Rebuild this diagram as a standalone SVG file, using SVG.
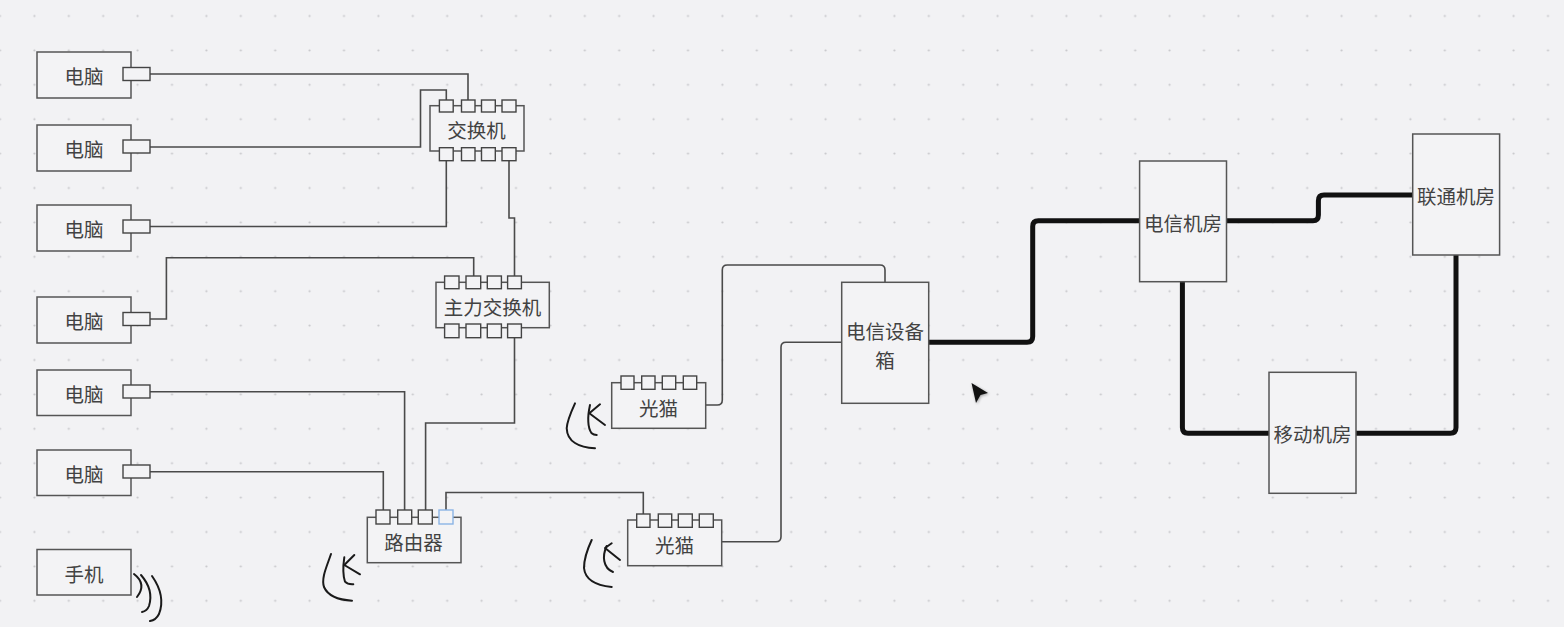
<svg xmlns="http://www.w3.org/2000/svg" width="1564" height="627" viewBox="0 0 1564 627">
  <defs>
    <pattern id="dots" patternUnits="userSpaceOnUse" x="-17.2" y="-1.2" width="34.4" height="34.4">
      <circle cx="17.2" cy="17.2" r="1.1" fill="#c6c6ca"/>
    </pattern>
    <filter id="soft" x="-50%" y="-50%" width="200%" height="200%">
      <feGaussianBlur stdDeviation="1.6"/>
    </filter>
    <style>
      .box { fill: #f3f3f5; stroke: #555; stroke-width: 1.5; }
      .port { fill: #f3f3f5; stroke: #444; stroke-width: 1.4; }
      .port-sel { fill: #f3f3f5; stroke: #8bb4e6; stroke-width: 1.4; }
      .lbl { font-family: "Noto Sans CJK SC", "Noto Sans", sans-serif; font-size: 19.5px; fill: #424242; text-anchor: middle; dominant-baseline: central; }
      .wire { fill: none; stroke: #4a4a4a; stroke-width: 1.6; }
      .trunk { fill: none; stroke: #111; stroke-width: 5; stroke-linejoin: round; }
      .pen { fill: none; stroke: #1a1a1a; stroke-width: 2; stroke-linecap: round; stroke-linejoin: round; }
    </style>
  </defs>

  <rect width="1564" height="627" fill="#f2f2f4"/>
  <rect width="1564" height="627" fill="url(#dots)"/>

  <!-- connectors -->
  <g id="connectors">
    <path class="wire" d="M150,74 H468 V100"/>
    <path class="wire" d="M150,147 H420.5 V90 H446.3 V100"/>
    <path class="wire" d="M150,226.5 H446.3 V160.7"/>
    <path class="wire" d="M509,160.7 V218 H514.5 V276"/>
    <path class="wire" d="M150,319 H166.4 V257.7 H473.7 V276"/>
    <path class="wire" d="M514.5,337.7 V423 H425.6 V510"/>
    <path class="wire" d="M150,391.7 H404.6 V510"/>
    <path class="wire" d="M150,471.7 H383.3 V510"/>
    <path class="wire" d="M446,510 V492.5 H643.3 V514"/>
    <path class="wire" d="M721.7,541.7 H776 Q781,541.7 781,536.7 V347.3 Q781,342.3 786,342.3 H841.7"/>
    <path class="wire" d="M705.7,405 H717.3 Q722.3,405 722.3,400 V270 Q722.3,265 727.3,265 H880 Q885,265 885,270 V282.3"/>

    <path class="trunk" d="M928.7,342.3 H1027 Q1032.7,342.3 1032.7,336.6 V226.4 Q1032.7,220.7 1038.4,220.7 H1139.6"/>
    <path class="trunk" d="M1226.5,220.7 H1313 Q1318.4,220.7 1318.4,215 V200.7 Q1318.4,195 1324,195 H1412.7"/>
    <path class="trunk" d="M1182.4,281.7 V427.6 Q1182.4,433.3 1188,433.3 H1269"/>
    <path class="trunk" d="M1356,433.3 H1450.3 Q1456,433.3 1456,427.6 V255"/>
  </g>

  <!-- computers -->
  <g id="pc1">
    <rect class="box" x="37" y="52" width="94" height="46"/>
    <rect class="port" x="123" y="67.5" width="27" height="13"/>
    <text class="lbl" x="84" y="75">电脑</text>
  </g>
  <g id="pc2">
    <rect class="box" x="37" y="125" width="94" height="46"/>
    <rect class="port" x="123" y="140" width="27" height="13"/>
    <text class="lbl" x="84" y="148">电脑</text>
  </g>
  <g id="pc3">
    <rect class="box" x="37" y="205" width="94" height="46"/>
    <rect class="port" x="123" y="220" width="27" height="13"/>
    <text class="lbl" x="84" y="228">电脑</text>
  </g>
  <g id="pc4">
    <rect class="box" x="37" y="297" width="94" height="46"/>
    <rect class="port" x="123" y="312.5" width="27" height="13"/>
    <text class="lbl" x="84" y="320">电脑</text>
  </g>
  <g id="pc5">
    <rect class="box" x="37" y="370" width="94" height="45.5"/>
    <rect class="port" x="123" y="385" width="27" height="13"/>
    <text class="lbl" x="84" y="393">电脑</text>
  </g>
  <g id="pc6">
    <rect class="box" x="37" y="450" width="94" height="45.5"/>
    <rect class="port" x="123" y="465" width="27" height="13"/>
    <text class="lbl" x="84" y="473">电脑</text>
  </g>

  <!-- phone with wireless strokes -->
  <g id="phone">
    <rect class="box" x="37" y="549.5" width="94" height="45.5"/>
    <text class="lbl" x="84" y="573">手机</text>
    <path class="pen" d="M134,574 Q147,584 137,597"/>
    <path class="pen" d="M141,575 Q154,590 149,606 Q147,611 142,612"/>
    <path class="pen" d="M152,576 Q166,596 159,614 Q156,620 150,621"/>
  </g>

  <!-- switch -->
  <g id="switch">
    <rect class="box" x="430" y="105.7" width="94" height="45.3"/>
    <rect class="port" x="439.4" y="100" width="13.8" height="12"/>
    <rect class="port" x="461.5" y="100" width="13.5" height="12"/>
    <rect class="port" x="481.5" y="100" width="13.8" height="12"/>
    <rect class="port" x="502" y="100" width="14" height="12"/>
    <rect class="port" x="439.4" y="147.7" width="13.8" height="13"/>
    <rect class="port" x="461.5" y="147.7" width="13.5" height="13"/>
    <rect class="port" x="481.5" y="147.7" width="13.8" height="13"/>
    <rect class="port" x="502" y="147.7" width="14" height="13"/>
    <text class="lbl" x="476.5" y="129.5">交换机</text>
  </g>

  <!-- core switch -->
  <g id="core-switch">
    <rect class="box" x="436" y="282.3" width="113.3" height="45.4"/>
    <rect class="port" x="444.6" y="276" width="14.4" height="12.7"/>
    <rect class="port" x="466" y="276" width="14.7" height="12.7"/>
    <rect class="port" x="487.3" y="276" width="14.1" height="12.7"/>
    <rect class="port" x="507.6" y="276" width="13.8" height="12.7"/>
    <rect class="port" x="444.6" y="324" width="14.4" height="13.7"/>
    <rect class="port" x="466" y="324" width="14.7" height="13.7"/>
    <rect class="port" x="487.3" y="324" width="14.1" height="13.7"/>
    <rect class="port" x="507.6" y="324" width="13.8" height="13.7"/>
    <text class="lbl" x="492.5" y="306">主力交换机</text>
  </g>

  <!-- router -->
  <g id="router">
    <rect class="box" x="367.3" y="517.3" width="93.7" height="45.4"/>
    <rect class="port" x="376" y="510" width="14" height="14"/>
    <rect class="port" x="397.7" y="510" width="14" height="14"/>
    <rect class="port" x="418.3" y="510" width="14" height="14"/>
    <rect class="port-sel" x="439" y="510" width="14" height="14"/>
    <text class="lbl" x="413.5" y="541">路由器</text>
    <path class="pen" d="M331,554 C327,566 321,578 324,587 C328,596 340,600 352,600.7"/>
    <path class="pen" d="M344.3,557.3 C343,566 342.5,574 345,581.7 C347,584 350,584.5 353.3,584.3"/>
    <path class="pen" d="M344.3,565 L354.3,555 M344.3,565 L360,574.3"/>
  </g>

  <!-- optical modem 1 -->
  <g id="modem1">
    <rect class="box" x="611.7" y="382.7" width="94" height="45.6"/>
    <rect class="port" x="621" y="376" width="13" height="13.3"/>
    <rect class="port" x="641.7" y="376" width="13.3" height="13.3"/>
    <rect class="port" x="662.3" y="376" width="13.4" height="13.3"/>
    <rect class="port" x="683.3" y="376" width="13.4" height="13.3"/>
    <text class="lbl" x="658.5" y="407.5">光猫</text>
    <path class="pen" d="M575,403.3 C571,412 567,421 566.7,428.3 C567,436 570,440 575,443 C581,447 588,448 595,448.3"/>
    <path class="pen" d="M590,405 C588.5,412 588,418 588.3,421.7 C588.5,427 590,431 591.7,433.3 C593,434.5 595,435 596.7,435"/>
    <path class="pen" d="M589.3,413.3 L600,404.3 M589.3,413.3 L605,425"/>
  </g>

  <!-- optical modem 2 -->
  <g id="modem2">
    <rect class="box" x="627.7" y="520" width="94" height="45.7"/>
    <rect class="port" x="636.7" y="514" width="13.3" height="13.3"/>
    <rect class="port" x="658.3" y="514" width="13.4" height="13.3"/>
    <rect class="port" x="678.3" y="514" width="14" height="13.3"/>
    <rect class="port" x="699.3" y="514" width="14" height="13.3"/>
    <text class="lbl" x="674.5" y="544">光猫</text>
    <path class="pen" d="M591.7,540 C587,550 584,560 584,568 C585,578 592,585 611.7,587"/>
    <path class="pen" d="M606.7,546 C602,556 603,568 613,572"/>
    <path class="pen" d="M605,548 L611.7,543.3 M605,548 L620,560"/>
  </g>

  <!-- telecom equipment cabinet -->
  <g id="telecom-box">
    <rect class="box" x="841.7" y="282.3" width="87" height="121"/>
    <text class="lbl" x="885" y="330">电信设备</text>
    <text class="lbl" x="885" y="359">箱</text>
  </g>

  <!-- machine rooms -->
  <g id="telecom-room">
    <rect class="box" x="1139.6" y="161" width="86.9" height="120.7"/>
    <text class="lbl" x="1183" y="222">电信机房</text>
  </g>
  <g id="unicom-room">
    <rect class="box" x="1412.7" y="134" width="86.9" height="121"/>
    <text class="lbl" x="1456" y="195">联通机房</text>
  </g>
  <g id="mobile-room">
    <rect class="box" x="1269" y="372.3" width="87" height="121"/>
    <text class="lbl" x="1312.5" y="433">移动机房</text>
  </g>

  <!-- pointer with its soft shadow -->
  <path d="M972,384 L989,394 L981,396 L977,404 Z" fill="#000" opacity="0.35" filter="url(#soft)"/>
  <path d="M971.5,383 L988,393 L980.5,395 L976,403 Z" fill="#111"/>
</svg>
